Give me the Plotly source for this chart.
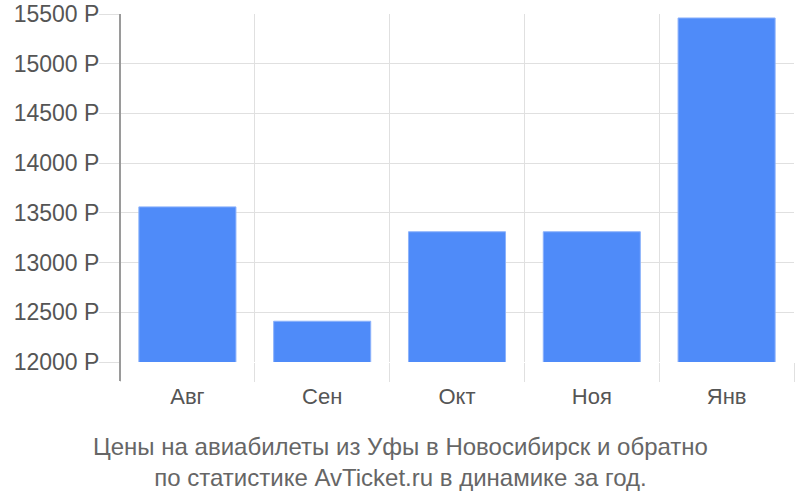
import plotly.graph_objects as go

months = ["Авг", "Сен", "Окт", "Ноя", "Янв"]
prices = [13560, 12410, 13310, 13310, 15460]
y_ticks = [12000, 12500, 13000, 13500, 14000, 14500, 15000, 15500]
title_lines = ["Цены на авиабилеты из Уфы в Новосибирск и обратно",
               "по статистике AvTicket.ru в динамике за год."]

fig = go.Figure(go.Bar(
    x=months, y=prices,
    marker=dict(color="#4f8bf9", line=dict(color="#8cb2fb", width=1)),
    hoverinfo="skip",
))

fig.update_layout(
    width=800, height=500,
    margin=dict(l=120, r=6, t=14, b=138),
    paper_bgcolor="white", plot_bgcolor="white",
    bargap=0.28,
    showlegend=False,
    font=dict(family="Liberation Sans, Arial, sans-serif", size=22, color="#555"),
)
fig.update_yaxes(
    range=[12000, 15500], tickvals=y_ticks,
    ticktext=[f"{v} Р" for v in y_ticks],
    showgrid=True, gridcolor="#e0e0e0", gridwidth=1,
    ticks="outside", ticklen=20, tickcolor="#e0e0e0",
    zeroline=False, showline=False, automargin=False,
    tickfont=dict(size=23, color="#555"),
    ticklabelstandoff=-5,
)
fig.update_xaxes(
    tickson="boundaries", showgrid=True, gridcolor="#e0e0e0",
    ticks="outside", ticklen=19, tickcolor="#e0e0e0",
    showline=False, zeroline=False, automargin=False,
    tickfont=dict(size=22, color="#555"),
    ticklabelstandoff=19,
)
fig.add_shape(type="line", xref="paper", yref="paper",
              x0=0, x1=0, y0=-19/348, y1=1,
              line=dict(color="#9a9a9a", width=2))
fig.add_annotation(
    text="<br>".join(title_lines), xref="paper", yref="paper",
    x=(400-120)/674, y=-(462-362)/348, xanchor="center", yanchor="middle",
    showarrow=False, align="center",
    font=dict(family="Liberation Sans, Arial", size=24, color="#666"),
)
fig.write_html("out.html",
               config={"displayModeBar": False},
               post_script="document.body.style.margin='0';document.body.style.overflow='hidden';")
